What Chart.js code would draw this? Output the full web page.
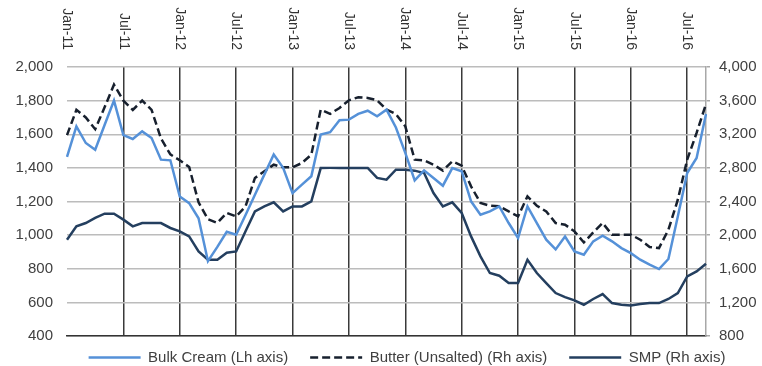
<!DOCTYPE html>
<html>
<head>
<meta charset="utf-8">
<script src="https://cdn.jsdelivr.net/npm/chart.js@4.4.0/dist/chart.umd.min.js"></script>
<style>
html,body{margin:0;padding:0;background:#ffffff;}
canvas{display:block;}
</style>
</head>
<body>
<canvas id="c" width="762" height="366"></canvas>
<script>
const months = [
  'Jan-11','Feb-11','Mar-11','Apr-11','May-11','Jun-11','Jul-11','Aug-11','Sep-11','Oct-11','Nov-11','Dec-11',
  'Jan-12','Feb-12','Mar-12','Apr-12','May-12','Jun-12','Jul-12','Aug-12','Sep-12','Oct-12','Nov-12','Dec-12',
  'Jan-13','Feb-13','Mar-13','Apr-13','May-13','Jun-13','Jul-13','Aug-13','Sep-13','Oct-13','Nov-13','Dec-13',
  'Jan-14','Feb-14','Mar-14','Apr-14','May-14','Jun-14','Jul-14','Aug-14','Sep-14','Oct-14','Nov-14','Dec-14',
  'Jan-15','Feb-15','Mar-15','Apr-15','May-15','Jun-15','Jul-15','Aug-15','Sep-15','Oct-15','Nov-15','Dec-15',
  'Jan-16','Feb-16','Mar-16','Apr-16','May-16','Jun-16','Jul-16','Aug-16','Sep-16'
];
const tickLabels = ['Jan-11','Jul-11','Jan-12','Jul-12','Jan-13','Jul-13','Jan-14','Jul-14','Jan-15','Jul-15','Jan-16','Jul-16'];

// Bulk Cream (left axis)
const bulkCream = [
  1465,1647,1548,1508,1655,1800,1595,1572,1617,1578,1449,1445,
  1230,1190,1100,845,930,1020,1002,1120,1240,1360,1480,1400,
  1250,1300,1350,1598,1612,1683,1687,1721,1740,1707,1746,1640,
  1489,1326,1385,1340,1294,1399,1380,1201,1121,1141,1171,1072,
  983,1171,1072,973,915,992,903,883,963,996,963,923,
  893,854,824,798,858,1111,1369,1459,1720
];
// Butter (Unsalted) (right axis)
const butter = [
  3190,3490,3400,3260,3520,3790,3600,3490,3600,3490,3150,2960,
  2890,2810,2390,2190,2145,2265,2222,2342,2680,2759,2838,2806,
  2806,2858,2957,3493,3442,3513,3604,3640,3632,3604,3493,3440,
  3294,2898,2889,2838,2767,2878,2826,2580,2382,2350,2342,2282,
  2223,2461,2350,2282,2144,2124,2045,1913,2032,2144,2005,2005,
  2005,1945,1859,1846,2064,2421,2898,3216,3560
];
// SMP (right axis)
const smp = [
  1945,2104,2144,2204,2255,2255,2184,2104,2144,2144,2144,2085,
  2045,1985,1806,1707,1707,1790,1806,2045,2282,2342,2390,2282,
  2342,2342,2402,2798,2800,2800,2800,2800,2800,2680,2660,2778,
  2779,2767,2739,2501,2342,2390,2263,1985,1747,1549,1517,1430,
  1430,1707,1549,1430,1311,1263,1223,1172,1240,1299,1192,1172,
  1164,1180,1192,1192,1240,1311,1509,1568,1660
];

const FONT = '"Liberation Sans", Arial, Helvetica, sans-serif';
Chart.defaults.font.family = FONT;

const topLabels = {
  id: 'topLabels',
  afterDraw(chart) {
    const ctx = chart.ctx;
    const xs = chart.scales.x;
    ctx.save();
    ctx.font = '14px ' + FONT;
    ctx.fillStyle = '#333333';
    ctx.textAlign = 'right';
    ctx.textBaseline = 'middle';
    tickLabels.forEach(lbl => {
      const idx = months.indexOf(lbl);
      const x = xs.getPixelForValue(idx);
      ctx.save();
      ctx.translate(x, 50);
      ctx.rotate(Math.PI / 2);
      ctx.fillText(lbl, 0, 0);
      ctx.restore();
    });
    ctx.restore();
  }
};

const legendPlace = {
  id: 'legendPlace',
  afterLayout(chart) {
    const l = chart.legend;
    if (!l) return;
    const dy = 328 - l.top;
    l.top += dy; l.bottom += dy;
    l.left += 26; l.right += 26;
  }
};

new Chart(document.getElementById('c'), {
  type: 'line',
  data: {
    labels: months,
    datasets: [
      {
        label: 'Bulk Cream (Lh axis)',
        data: bulkCream,
        yAxisID: 'y',
        borderColor: '#5591d8',
        borderWidth: 2.5,
        pointRadius: 0,
        tension: 0
      },
      {
        label: 'Butter (Unsalted) (Rh axis)',
        data: butter,
        yAxisID: 'y1',
        borderColor: '#17202e',
        borderWidth: 2.5,
        borderDash: [8, 4],
        pointRadius: 0,
        tension: 0
      },
      {
        label: 'SMP (Rh axis)',
        data: smp,
        yAxisID: 'y1',
        borderColor: '#243f5f',
        borderWidth: 2.5,
        pointRadius: 0,
        tension: 0
      }
    ]
  },
  options: {
    responsive: false,
    animation: false,
    devicePixelRatio: 1,
    layout: { padding: { top: 67, left: 0, right: 0, bottom: -17 } },
    plugins: {
      tooltip: { enabled: false },
      legend: {
        position: 'bottom',
        labels: {
          usePointStyle: true,
          pointStyle: 'line',
          pointStyleWidth: 52,
          boxWidth: 52,
          padding: 22,
          color: '#404040',
          font: { size: 15, family: FONT },
          generateLabels: chart => chart.data.datasets.map((ds, i) => ({
            text: ds.label,
            strokeStyle: ds.borderColor,
            fillStyle: ds.borderColor,
            lineWidth: ds.borderWidth,
            lineDash: ds.borderDash || [],
            pointStyle: 'line',
            fontColor: '#404040',
            hidden: false,
            datasetIndex: i
          }))
        }
      }
    },
    scales: {
      x: {
        type: 'category',
        position: 'bottom',
        offset: false,
        afterFit(s) { s.height = 0; },
        ticks: { display: false, autoSkip: false },
        grid: {
          drawTicks: false,
          lineWidth: 1.5,
          color: ctx => (ctx.index > 0 && tickLabels.includes(months[ctx.index])) ? '#3a3a3a' : 'rgba(0,0,0,0)'
        },
        border: { display: true, color: '#333333', width: 1.5 }
      },
      y: {
        position: 'left',
        min: 400,
        max: 2000,
        afterFit(s) { s.width = 67; },
        ticks: {
          stepSize: 200,
          padding: 14,
          color: '#404040',
          font: { size: 15, family: FONT },
          callback: v => v.toLocaleString('en-US')
        },
        grid: { drawTicks: false, color: '#bcbcbc', lineWidth: 1.5 },
        border: { display: false }
      },
      y1: {
        position: 'right',
        min: 800,
        max: 4000,
        afterFit(s) { s.width = 56; },
        ticks: {
          stepSize: 400,
          padding: 9,
          color: '#404040',
          font: { size: 15, family: FONT },
          callback: v => v.toLocaleString('en-US')
        },
        grid: { drawOnChartArea: false, drawTicks: true, tickLength: 4, color: '#a8a8a8', lineWidth: 1.5 },
        border: { display: true, color: '#a8a8a8', width: 1.5 }
      }
    }
  },
  plugins: [topLabels, legendPlace]
});
</script>
</body>
</html>
